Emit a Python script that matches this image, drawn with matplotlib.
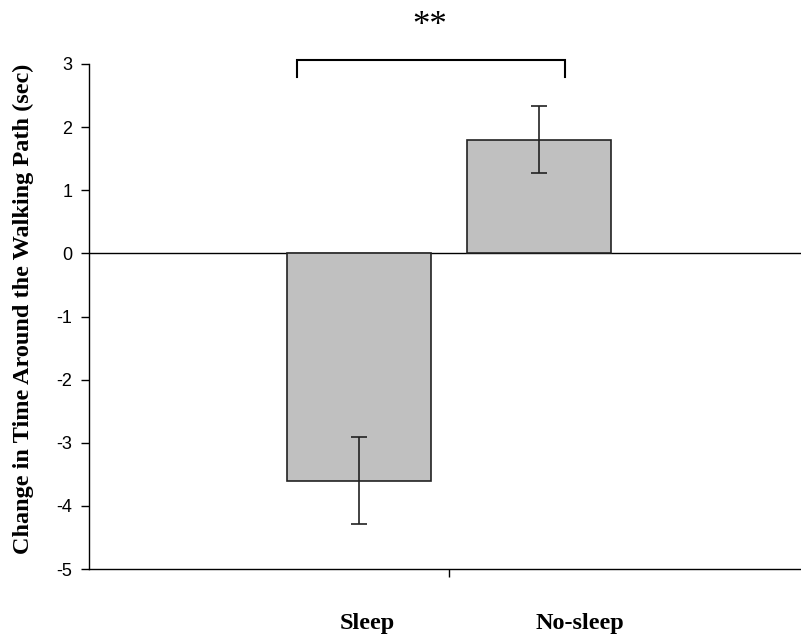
import matplotlib
matplotlib.use("Agg")
import matplotlib.pyplot as plt

categories = ["Sleep", "No-sleep"]
values = [-3.6, 1.8]
errors = [0.69, 0.53]
yticks = [3, 2, 1, 0, -1, -2, -3, -4, -5]
ylabel = "Change in Time Around the Walking Path (sec)"
sig_label = "**"

fig = plt.figure(figsize=(8.01, 6.41), dpi=100)
ax = fig.add_axes([89/801, 1 - 569/641, 720/801, (569-64)/641])

xpos = [1.5, 2.5]
ax.bar(xpos, values, width=0.8, color="#c0c0c0", edgecolor="#222222", linewidth=1.2, zorder=2)
ax.errorbar(xpos, values, yerr=errors, fmt="none", ecolor="#222222", elinewidth=1.2,
            capsize=5.5, capthick=1.2, zorder=3)
ax.axhline(0, color="black", linewidth=1.0, zorder=1)

ax.set_xlim(0, 4)
ax.set_ylim(-5, 3)
ax.set_yticks(yticks)
ax.set_yticklabels([str(t) for t in yticks], fontfamily="Liberation Sans", fontsize=13)
ax.set_xticks([2])
ax.set_xticklabels([""])
ax.tick_params(axis="both", direction="out", length=6, width=1)
ax.tick_params(axis="y", pad=6)
for s in ["top", "right"]:
    ax.spines[s].set_visible(False)
ax.spines["left"].set_linewidth(1.0)
ax.spines["bottom"].set_linewidth(1.0)

ax.set_ylabel(ylabel, fontfamily="Liberation Serif", fontweight="bold", fontsize=17.5)
ax.yaxis.set_label_coords(-0.077, 0.515)

for x, lab in zip([1.544, 2.728], categories):
    ax.text(x, -5.86, lab, ha="center", va="center", fontfamily="Liberation Serif",
            fontweight="bold", fontsize=17.5, clip_on=False)

# significance bracket
bx0, bx1, btop, bleg = 1.156, 2.644, 3.07, 2.79
ax.plot([bx0, bx0, bx1, bx1], [bleg, btop, btop, bleg], color="black", linewidth=1.5,
        clip_on=False, solid_joinstyle="miter")
ax.text(1.894, 3.455, sig_label, ha="center", va="baseline", fontfamily="Liberation Serif",
        fontsize=25, clip_on=False)

fig.savefig("out.png", dpi=100)
